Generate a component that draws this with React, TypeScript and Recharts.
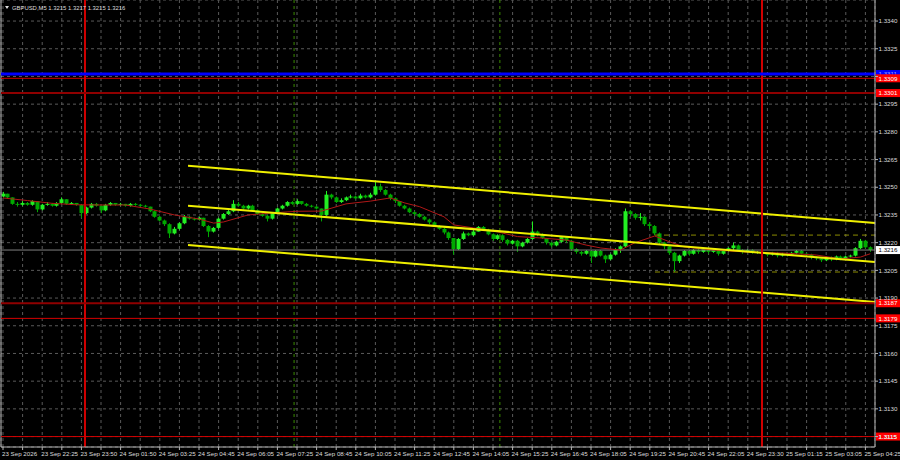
import React from "react";
import {
  Bar,
  CartesianGrid,
  ComposedChart,
  Line,
  ReferenceLine,
  XAxis,
  YAxis,
} from "recharts";

// Prices are kept as pips above 1.3200 (GBPUSD, M5, one candle = two M5 bars).
const BASE = 1.32;
const PIP = 0.0001;

const opens = [
  45, 46.5, 44.5, 41, 40.5, 41.5, 40.5, 42.5, 38, 40.5,
  41, 40, 41.5, 43.5, 41, 41.5, 40.5, 36, 39, 41,
  40, 37.5, 40.5, 41.5, 40.5, 41, 40, 41, 40.5, 40,
  39.5, 37, 34, 32, 30, 25, 27.5, 30.5, 34, 33,
  32.5, 33.5, 29, 26, 28, 33, 35.5, 37, 41, 40,
  38.5, 40, 37.5, 35.5, 34.5, 33, 36, 38.5, 40, 42,
  41, 42.5, 41, 40, 39.5, 38.5, 35, 46, 44.5, 42,
  43, 44.5, 45, 44, 45.5, 44.5, 46, 50.5, 48.5, 46,
  44, 42.5, 40, 38.5, 36.5, 35.5, 34, 32.5, 31, 29,
  27.5, 25.5, 22.5, 16.5, 22, 25, 24, 26, 28.5, 27,
  24.5, 22, 24, 21.5, 19.5, 21, 18, 20, 22, 26,
  24.5, 22.5, 20, 18.5, 20.5, 23, 21, 16.5, 15, 14,
  15.5, 12.5, 15.5, 13, 11, 13.5, 16.5, 18, 37, 35.5,
  33.5, 34, 30, 29, 25, 20, 18, 14.5, 10, 13,
  15.5, 14, 16, 15, 16.5, 15, 16, 14, 15.5, 17,
  18.5, 16, 15, 16, 14.5, 15, 14, 13.5, 14.5, 13,
  14, 13.5, 14.5, 15.5, 14, 13.5, 12, 11.5, 10.5, 12,
  11, 12.5, 11.5, 12.5, 13, 17, 21, 17.5,
];

const highs = [
  47.5, 46.5, 44.5, 42, 42.5, 42, 43, 42.5, 41, 42,
  41.5, 42, 44.5, 43.5, 42, 41.5, 40.5, 39.5, 41.5, 41.5,
  40, 41, 42, 41.5, 41.5, 41, 41.5, 41.5, 41, 40.5,
  39.5, 37.5, 34.5, 32.5, 30.5, 28.5, 31, 35, 34.5, 33.5,
  34, 33.5, 29.5, 28.5, 33.5, 36, 38, 43, 42, 40.5,
  40.5, 40.5, 38, 36, 35, 36.5, 39, 40.5, 42.5, 42.5,
  43.5, 42.5, 41.5, 40.5, 40, 38.5, 48, 46.5, 45, 44,
  45, 46, 45.5, 46.5, 46, 47, 53, 52, 49, 46.5,
  44.5, 42.5, 40.5, 39, 37, 36, 34.5, 33, 31.5, 29.5,
  28, 26, 22.5, 22.5, 26, 25.5, 27, 29, 29, 27.5,
  25, 24.5, 24.5, 22, 21.5, 21.5, 20.5, 22.5, 31.5, 26.5,
  25, 22.5, 20.5, 21, 23.5, 23.5, 21.5, 17, 15.5, 16,
  16, 16, 16, 13.5, 14, 17, 18.5, 38.5, 37.5, 36,
  36, 34.5, 31, 29.5, 25.5, 20.5, 18.5, 15, 13.5, 16,
  16, 16.5, 16.5, 17, 17, 16.5, 16.5, 16, 17.5, 20,
  19, 16.5, 16.5, 16.5, 15.5, 15.5, 14.5, 15, 15, 14.5,
  14.5, 15, 16, 16, 14.5, 14, 12.5, 12, 12.5, 12.5,
  13, 13, 13, 13.5, 17.5, 22, 21.5, 18,
];

const lows = [
  44.5, 44, 40.5, 39.5, 40, 40, 40, 36.5, 37.5, 40,
  39.5, 39.5, 41, 40.5, 40.5, 40, 33.5, 35.5, 38.5, 39.5,
  36, 37, 40, 40, 40, 39.5, 39.5, 40, 39.5, 39,
  36.5, 33.5, 31.5, 29, 22.5, 24.5, 27, 30, 32.5, 32,
  32, 28.5, 23, 25.5, 27.5, 32.5, 35, 36.5, 39.5, 38,
  38, 37, 35, 34, 31.5, 32.5, 35.5, 38, 39.5, 40.5,
  40.5, 40.5, 39.5, 39, 38, 31.5, 34.5, 43.5, 41.5, 41.5,
  42.5, 44, 43.5, 43.5, 44, 44, 45.5, 47.5, 45.5, 43,
  41.5, 39.5, 38, 36, 34.5, 33.5, 32, 30, 28.5, 27,
  24.5, 21.5, 13.5, 16, 21.5, 23.5, 23.5, 26, 26.5, 24,
  21, 21.5, 20.5, 18.5, 19, 15, 17.5, 19.5, 21.5, 23.5,
  22, 19, 17.5, 18, 20, 20, 15.5, 14, 13, 13.5,
  9, 12, 12.5, 9, 10.5, 13, 14.5, 17.5, 34, 32.5,
  32, 29, 27.5, 24, 19, 16.5, 13.5, 4, 9, 12.5,
  13, 13.5, 14, 14.5, 14, 14.5, 13, 13.5, 15, 16,
  15.5, 14, 14.5, 14, 14, 13, 12.5, 13, 12, 12.5,
  12.5, 13, 14, 13.5, 12.5, 11, 10.5, 9.5, 10, 10,
  10.5, 10.5, 11, 12, 12.5, 16.5, 17, 15,
];

const closes = [
  46.5, 44.5, 41, 40.5, 41.5, 40.5, 42.5, 38, 40.5, 41,
  40, 41.5, 43.5, 41, 41.5, 40.5, 36, 39, 41, 40,
  37.5, 40.5, 41.5, 40.5, 41, 40, 41, 40.5, 40, 39.5,
  37, 34, 32, 30, 25, 27.5, 30.5, 34, 33, 32.5,
  33.5, 29, 26, 28, 33, 35.5, 37, 41, 40, 38.5,
  40, 37.5, 35.5, 34.5, 33, 36, 38.5, 40, 42, 41,
  42.5, 41, 40, 39.5, 38.5, 35, 46, 44.5, 42, 43,
  44.5, 45, 44, 45.5, 44.5, 46, 50.5, 48.5, 46, 44,
  42.5, 40, 38.5, 36.5, 35.5, 34, 32.5, 31, 29, 27.5,
  25.5, 22.5, 16.5, 22, 25, 24, 26, 28.5, 27, 24.5,
  22, 24, 21.5, 19.5, 21, 18, 20, 22, 26, 24.5,
  22.5, 20, 18.5, 20.5, 23, 21, 16.5, 15, 14, 15.5,
  12.5, 15.5, 13, 11, 13.5, 16.5, 18, 37, 35.5, 33.5,
  34, 30, 29, 25, 20, 18, 14.5, 10, 13, 15.5,
  14, 16, 15, 16.5, 15, 16, 14, 15.5, 17, 18.5,
  16, 15, 16, 14.5, 15, 14, 13.5, 14.5, 13, 14,
  13.5, 14.5, 15.5, 14, 13.5, 12, 11.5, 10.5, 12, 11,
  12.5, 11.5, 12.5, 13, 17, 21, 17.5, 16,
];

// moving average (red line), read at these candle positions
const maIndex = [
  0, 5, 10, 15, 20, 25, 30, 35, 40, 43, 45, 50, 55, 60, 65, 70, 75, 79, 82, 85,
  90, 92, 96, 101, 105, 110, 115, 119, 122, 126, 129, 133, 136, 139, 145, 152,
  159, 166, 171, 175, 177,
];
const maPips = [
  44.2, 42.8, 41.3, 40.5, 40.4, 40.4, 38.2, 35, 32.8, 30.6, 31.2, 35, 36.1, 37,
  37.1, 41, 42.5, 44.2, 41.5, 39.5, 34, 29.6, 28, 25.8, 23.3, 22.5, 21.4, 18.7,
  17.1, 16, 20, 23.6, 20.5, 17.7, 16, 14.9, 14.4, 13.3, 11.2, 12.2, 14,
];

const timeLabels = [
  "23 Sep 2026", "23 Sep 22:25", "23 Sep 23:50", "24 Sep 01:50", "24 Sep 03:25",
  "24 Sep 04:45", "24 Sep 06:05", "24 Sep 07:25", "24 Sep 08:45", "24 Sep 10:05",
  "24 Sep 11:25", "24 Sep 12:45", "24 Sep 14:05", "24 Sep 15:25", "24 Sep 16:45",
  "24 Sep 18:05", "24 Sep 19:25", "24 Sep 20:45", "24 Sep 22:05", "24 Sep 23:30",
  "25 Sep 01:15", "25 Sep 03:05", "25 Sep 04:25",
];

const priceTicks = [
  1.3115, 1.313, 1.3145, 1.316, 1.3175, 1.319, 1.3205, 1.322, 1.3235, 1.325,
  1.3265, 1.328, 1.3295, 1.331, 1.3325, 1.334,
];
// scale labels that sit under the level tags and are not shown
const hiddenTicks = [1.331];

// horizontal levels with their price tags on the right scale
const levelPrices = [1.33113, 1.3309, 1.3301, 1.31872, 1.3179, 1.3115];
const levelTags = ["1.3311", "1.3309", "1.3301", "1.3187", "1.3179", "1.3115"];
const levelColors = ["#0000ff", "#d40000", "#8f0000", "#8f0000", "#d40000", "#d40000"];
const levelWidths = [3, 1, 2, 2, 1, 1];
const levelTagFills = ["#0000ff", "#ff0000", "#ff0000", "#ff0000", "#ff0000", "#ff0000"];

const lastPrice = 1.3216;

// vertical markers (candle positions)
const sessionLines = [16.73, 154.9];
const dashedMarkers = [59.4, 101.4];

// price channel: start/end candle positions and pips
const channelX = [37.76, 177.96];
const channelUpper = [61.7, 30.6];
const channelMiddle = [40.0, 9.5];
const channelLower = [18.7, -12.1];

// short dashed horizontal levels on the right
const dashX = [133.06, 177.96];
const dashPips = [24.1, 4.1];

const X_DOMAIN: [number, number] = [-0.41, 177.96];
const Y_DOMAIN: [number, number] = [1.310935, 1.33514];

const FONT = "'Liberation Sans', Arial, sans-serif";
const BULL = "#22ee22";
const BEAR = "#00a800";
const AXIS = "#b4b4b4";
const TEXT = "#dcdcdc";

const px = (p: number) => BASE + p * PIP;

const rows = closes.map((c, i) => {
  const m = maIndex.indexOf(i);
  return {
    i,
    o: px(opens[i]),
    h: px(highs[i]),
    l: px(lows[i]),
    c: px(c),
    range: [px(lows[i]), px(highs[i])],
    ma: m >= 0 ? px(maPips[m]) : null,
  };
});

// a tick every 4 candles, a time label every 8
const gridTicks = timeLabels.flatMap((_, n) => (n < timeLabels.length - 1 ? [n * 8, n * 8 + 4] : [n * 8]));

function Candle(props: any) {
  const { x, y, width, height, payload } = props;
  if (x == null || y == null || !payload) return null;
  const top = Math.min(y, y + height);
  const h = Math.abs(height);
  const span = payload.h - payload.l;
  const toY = (v: number) => (span > 0 ? top + ((payload.h - v) / span) * h : top);
  const cx = Math.round(x + width / 2) + 0.5;
  const color = payload.c >= payload.o ? BULL : BEAR;
  const yo = toY(payload.o);
  const yc = toY(payload.c);
  const bodyTop = Math.min(yo, yc);
  const bodyH = Math.max(1, Math.abs(yc - yo));
  return (
    <g>
      <line x1={cx} x2={cx} y1={top} y2={top + Math.max(h, 1)} stroke={color} strokeWidth={1} />
      <rect x={cx - 2} y={bodyTop} width={4} height={bodyH} fill={color} />
    </g>
  );
}

function TimeTick(props: any) {
  const { x, y, payload } = props;
  const v = payload.value as number;
  const label = v % 8 === 0 ? timeLabels[v / 8] : null;
  return (
    <g>
      <line x1={x} x2={x} y1={y} y2={y + 3} stroke={AXIS} strokeWidth={1} />
      {label && (
        <text x={x - 1} y={y + 8.5} fontSize={6.2} fill={TEXT} fontFamily={FONT} textAnchor="start">
          {label}
        </text>
      )}
    </g>
  );
}

function PriceTick(props: any) {
  const { x, y, payload } = props;
  const v = payload.value as number;
  return (
    <g>
      <line x1={x} x2={x + 3} y1={y} y2={y} stroke={AXIS} strokeWidth={1} />
      {!hiddenTicks.includes(v) && (
        <text x={x + 3.5} y={y + 2.2} fontSize={6.2} fill={TEXT} fontFamily={FONT} textAnchor="start">
          {v.toFixed(4)}
        </text>
      )}
    </g>
  );
}

function PriceTag(props: any) {
  const { viewBox, text, fill, color } = props;
  if (!viewBox) return null;
  const x = viewBox.x + viewBox.width + 1;
  const y = viewBox.y;
  return (
    <g>
      <rect x={x} y={y - 4} width={24} height={8} fill={fill} />
      <text x={x + 2.5} y={y + 2.2} fontSize={6.2} fill={color} fontFamily={FONT}>
        {text}
      </text>
    </g>
  );
}

const seg = (x: number[], p: number[]) => [
  { x: x[0], y: px(p[0]) },
  { x: x[1], y: px(p[1]) },
];

export default function App() {
  return (
    <div style={{ position: "absolute", left: 0, top: 0, width: 900, height: 460, background: "#000" }}>
      <ComposedChart
        width={900}
        height={460}
        data={rows}
        margin={{ top: 0, right: 0, bottom: 0, left: 1 }}
      >
        <CartesianGrid stroke="#5a5a5a" strokeDasharray="3 3" />
        <XAxis
          dataKey="i"
          type="number"
          domain={X_DOMAIN}
          allowDataOverflow
          ticks={gridTicks}
          interval={0}
          height={13}
          tickLine={false}
          tickSize={0}
          tickMargin={0}
          axisLine={{ stroke: AXIS }}
          tick={<TimeTick />}
        />
        <YAxis
          orientation="right"
          type="number"
          domain={Y_DOMAIN}
          allowDataOverflow
          ticks={priceTicks}
          interval={0}
          width={25}
          tickLine={false}
          tickSize={0}
          tickMargin={0}
          axisLine={{ stroke: AXIS }}
          tick={<PriceTick />}
        />
        <ReferenceLine x={X_DOMAIN[0]} stroke={AXIS} ifOverflow="visible" />
        <ReferenceLine y={lastPrice} stroke="#808080" strokeWidth={1} />
        {dashedMarkers.map((k) => (
          <ReferenceLine key={`g${k}`} x={k} stroke="#3a8a00" strokeDasharray="3 3" strokeWidth={1} />
        ))}
        <Bar dataKey="range" shape={<Candle />} barSize={4} isAnimationActive={false} />
        <Line
          dataKey="ma"
          type="linear"
          connectNulls
          dot={false}
          stroke="#b01818"
          strokeWidth={1}
          isAnimationActive={false}
        />
        {dashPips.map((p) => (
          <ReferenceLine
            key={`d${p}`}
            segment={seg(dashX, [p, p])}
            stroke="#8c8c00"
            strokeDasharray="5 4"
            strokeWidth={1}
          />
        ))}
        {[channelUpper, channelMiddle, channelLower].map((c, n) => (
          <ReferenceLine key={`c${n}`} segment={seg(channelX, c)} stroke="#f0f000" strokeWidth={2} ifOverflow="extendDomain" />
        ))}
        {sessionLines.map((k) => (
          <ReferenceLine key={`r${k}`} x={k} stroke="#d00000" strokeWidth={2} />
        ))}
        {levelPrices.map((p, n) => (
          <ReferenceLine
            key={`l${n}`}
            y={p}
            stroke={levelColors[n]}
            strokeWidth={levelWidths[n]}
            label={<PriceTag text={levelTags[n]} fill={levelTagFills[n]} color={n === 0 ? "#9aa0ff" : "#ffffff"} />}
          />
        ))}
        <ReferenceLine
          y={lastPrice}
          stroke="none"
          label={<PriceTag text={lastPrice.toFixed(4)} fill="#ffffff" color="#000000" />}
        />
      </ComposedChart>
      <svg width={900} height={20} style={{ position: "absolute", left: 0, top: 0, pointerEvents: "none" }}>
        <path d="M5 6 L9 6 L7 9 Z" fill="#e0e0e0" />
        <text x={12} y={9.5} fontSize={5.9} fill={TEXT} fontFamily={FONT}>
          GBPUSD,M5 1.3215 1.3217 1.3215 1.3216
        </text>
      </svg>
    </div>
  );
}
